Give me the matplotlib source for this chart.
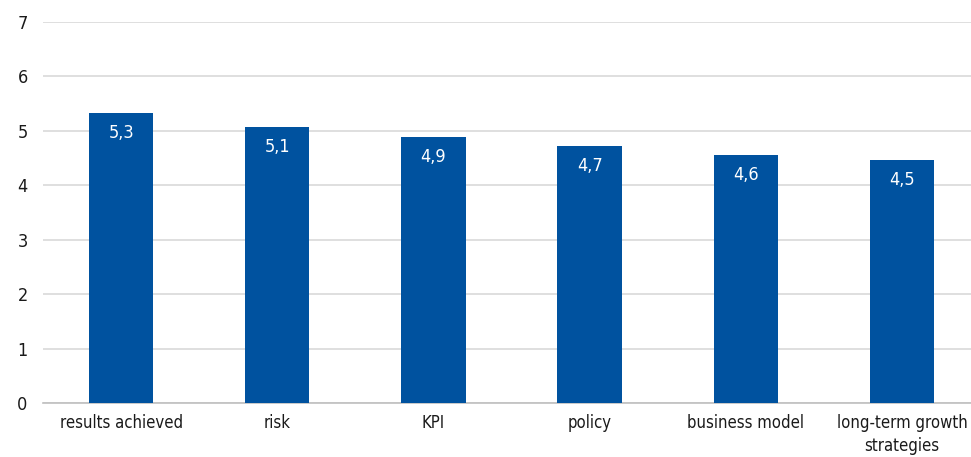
import numpy as np
import matplotlib.pyplot as plt

categories = ["results achieved", "risk", "KPI", "policy", "business model",
              "long-term growth\nstrategies"]
values = [5.33, 5.07, 4.89, 4.72, 4.56, 4.47]
labels = ["5,3", "5,1", "4,9", "4,7", "4,6", "4,5"]
yticks = [0, 1, 2, 3, 4, 5, 6, 7]

plt.rcParams['font.family'] = ['DejaVu Sans']
plt.rcParams['font.stretch'] = 'condensed'

fig = plt.figure(figsize=(9.71, 4.57), dpi=100)
ax = fig.add_axes([43 / 971, 53.7 / 457, 937 / 971, 381.6 / 457])

x = np.arange(len(categories))
bars = ax.bar(x, values, width=0.413, color='#00529F', zorder=3)

for b, lab in zip(bars, labels):
    ax.annotate(lab, (b.get_x() + b.get_width() / 2, b.get_height()),
                xytext=(0, -20), textcoords='offset pixels',
                ha='center', va='center', color='white', fontsize=13, zorder=4)

ax.set_xlim(-0.5, len(categories) - 0.5)
ax.set_ylim(0, 7)
ax.set_yticks(yticks)
ax.set_yticklabels([str(t) for t in yticks], fontsize=13)
ax.set_xticks(x)
ax.set_xticklabels(categories, fontsize=12, linespacing=1.35, color='#1a1a1a')
ax.tick_params(axis='y', length=0, pad=11, labelcolor='#1a1a1a')
ax.tick_params(axis='x', length=0, pad=8)
for lab in ax.get_yticklabels():
    lab.set_horizontalalignment('right')

ax.grid(axis='y', color='#D9D9D9', linewidth=1.2, zorder=0)
for s in ['top', 'right', 'left']:
    ax.spines[s].set_visible(False)
ax.spines['bottom'].set_color('#BFBFBF')
ax.spines['bottom'].set_linewidth(1.2)

fig.savefig('out.png', dpi=100)
